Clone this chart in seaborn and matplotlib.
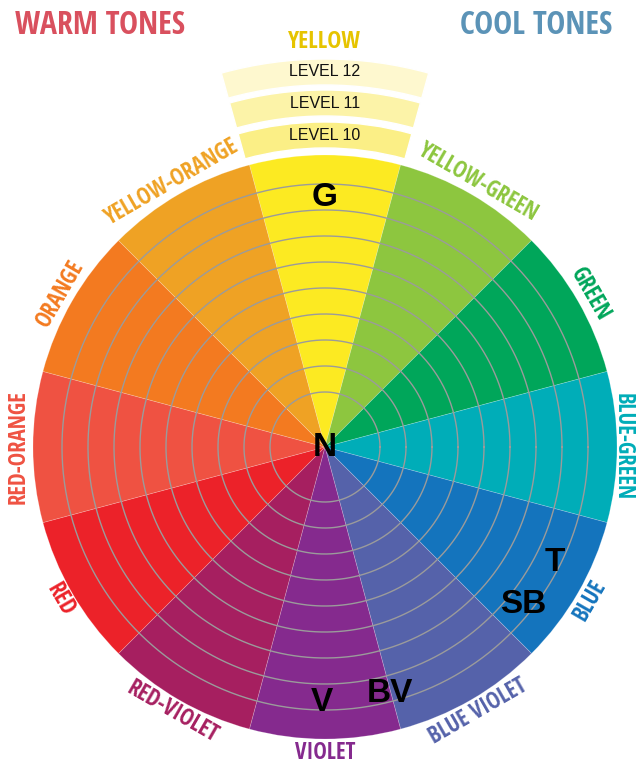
import numpy as np
import matplotlib
matplotlib.use('Agg')
import matplotlib.pyplot as plt
from matplotlib import font_manager
import seaborn as sns

# 色轮数据
hues = ['YELLOW', 'YELLOW-GREEN', 'GREEN', 'BLUE-GREEN', 'BLUE', 'BLUE VIOLET',
        'VIOLET', 'RED-VIOLET', 'RED', 'RED-ORANGE', 'ORANGE', 'YELLOW-ORANGE']
hue_angles = [90, 60, 30, 0, -30, -60, -90, -120, -150, 180, 150, 120]
hue_colors = ['#FCEA22', '#8DC63F', '#00A65A', '#00ADB8', '#1474BD', '#5562AA',
              '#852A8E', '#A61F60', '#EC2229', '#EF5242', '#F37A20', '#EFA224']
label_colors = ['#E6C400', '#8DC63F', '#00A65A', '#00ADB8', '#1474BD', '#5562AA',
                '#852A8E', '#A61F60', '#EC2229', '#EF5242', '#F37A20', '#EFA224']

wheel_radius = 292
ring_radii = [55, 81, 107, 133, 159, 185, 211, 237, 263]

# 黄色上方的高明度层级
levels = ['LEVEL 10', 'LEVEL 11', 'LEVEL 12']
level_bottoms = [299, 331, 362]
level_height = 26
level_colors = ['#FBEF86', '#FCF3A8', '#FEF8CF']

# 色调代码
tone_codes = ['N', 'G', 'T', 'SB', 'BV', 'V']
tone_angles = [0, 90, -26.6, -38.4, -75.3, -90.7]
tone_radii = [0, 249, 257, 253, 255, 256]

sns.set_theme(style='white')

# 窄体字
names = {f.name for f in font_manager.fontManager.ttflist}
narrow = next((n for n in ['Open Sans Condensed', 'Liberation Sans Narrow',
                           'Roboto Condensed'] if n in names), 'Liberation Sans')
plt.rcParams['font.family'] = [narrow, 'DejaVu Sans']

W, H = 637, 769
cx, cy = 325, 769 - 447
R = 430
fig = plt.figure(figsize=(W / 100, H / 100), dpi=100)
ax = fig.add_axes([(cx - R) / W, (cy - R) / H, 2 * R / W, 2 * R / H], projection='polar')
ax.set_ylim(0, R)
ax.axis('off')

pal = sns.color_palette(hue_colors)
theta = np.deg2rad(hue_angles)
ax.bar(theta, wheel_radius, width=np.deg2rad(30), bottom=0, color=pal,
       edgecolor=(1, 1, 1, 0.25), linewidth=0.5, zorder=1)

# 同心圆
t = np.linspace(0, 2 * np.pi, 400)
for r in ring_radii:
    ax.plot(t, np.full_like(t, r), color='#9B9B9B', lw=1.0, zorder=2)

# 层级色带
ax.bar(np.full(len(levels), np.pi / 2), level_height, width=np.deg2rad(31),
       bottom=level_bottoms, color=level_colors, zorder=1)
for name, b in zip(levels, level_bottoms):
    ax.text(np.pi / 2, b + level_height / 2, name, ha='center', va='center',
            fontsize=11.5, family=['Liberation Sans'], color='#111111', zorder=3)

# 外圈名称
outer = []
for name, a, c in zip(hues, hue_angles, label_colors):
    if name == 'YELLOW':
        ax.text(np.deg2rad(a), 405, name, ha='center', va='center', fontsize=17,
                fontweight='bold', color=c, zorder=3)
        continue
    rot = a - 90 if a >= 0 else a + 90
    txt = ax.text(np.deg2rad(a), 306, name, ha='center', va='center', fontsize=16.4,
                  fontweight='bold', color=c, rotation=rot, rotation_mode='anchor',
                  zorder=3)
    outer.append(txt)

# 色调代码
for code, a, r in zip(tone_codes, tone_angles, tone_radii):
    ax.text(np.deg2rad(a), r, code, ha='center', va='center', fontsize=24,
            fontweight='bold', family=['Liberation Sans'], color='black', zorder=4)

fig.text(15 / W, 1 - 25 / H, 'WARM TONES', ha='left', va='center', fontsize=23,
         fontweight='bold', color='#D9505E')
fig.text(612 / W, 1 - 25 / H, 'COOL TONES', ha='right', va='center', fontsize=23,
         fontweight='bold', color='#5B93B7')

# 贴边的名称往里收一点，避免被裁
fig.canvas.draw()
renderer = fig.canvas.get_renderer()
for txt in outer:
    bb = txt.get_window_extent(renderer)
    over = max(bb.x1 - (W - 1), 1 - bb.x0, 1 - bb.y0, 0)
    if over > 0:
        th, r = txt.get_position()
        txt.set_position((th, r - over - 1))

fig.savefig('out.png', dpi=100)
